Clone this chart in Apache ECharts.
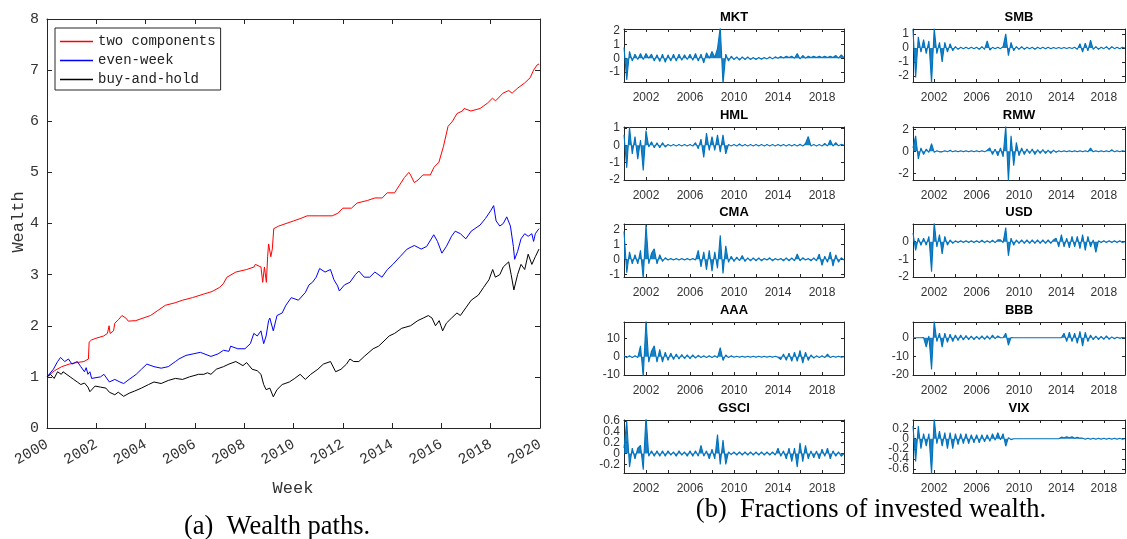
<!DOCTYPE html>
<html>
<head>
<meta charset="utf-8">
<script src="https://cdn.jsdelivr.net/npm/echarts@6/dist/echarts.min.js"></script>
<style>
  html, body { margin: 0; padding: 0; background: #fff; }
  #chart { width: 1127px; height: 539px; }
</style>
</head>
<body>
<div id="chart"></div>
<script>
// ---- (a) wealth paths: [year, wealth] ----
const twoComponents = [
  [2000,1.0],[2000.3,1.12],[2000.6,1.2],[2000.9,1.25],[2001.2,1.28],[2001.5,1.3],[2001.68,1.35],
  [2001.71,1.68],[2001.8,1.72],[2001.95,1.75],[2002.3,1.8],[2002.45,1.85],[2002.52,2.0],[2002.56,1.85],
  [2002.7,1.9],[2002.75,2.05],[2002.9,2.12],[2003.04,2.2],[2003.2,2.15],[2003.3,2.09],[2003.6,2.1],
  [2004.2,2.2],[2004.5,2.3],[2004.8,2.4],[2005.2,2.45],[2005.5,2.5],[2005.9,2.55],[2006.36,2.62],
  [2006.7,2.67],[2007.0,2.75],[2007.15,2.82],[2007.3,2.95],[2007.66,3.05],[2008.1,3.1],[2008.4,3.15],
  [2008.45,3.2],[2008.68,3.15],[2008.75,2.85],[2008.82,3.15],[2008.9,2.85],[2008.95,3.35],[2008.99,3.6],
  [2009.08,3.35],[2009.14,3.5],[2009.2,3.9],[2009.4,3.95],[2009.7,4.0],[2010.0,4.05],[2010.3,4.1],
  [2010.55,4.15],[2011.0,4.15],[2011.57,4.15],[2011.8,4.2],[2012.0,4.3],[2012.35,4.3],[2012.58,4.4],
  [2013.0,4.45],[2013.3,4.5],[2013.6,4.5],[2013.8,4.6],[2014.1,4.6],[2014.3,4.75],[2014.5,4.9],
  [2014.68,5.0],[2014.75,4.95],[2014.9,4.8],[2015.05,4.85],[2015.25,4.95],[2015.55,4.95],[2015.7,5.1],
  [2015.9,5.2],[2016.08,5.5],[2016.27,5.9],[2016.45,6.0],[2016.63,6.15],[2016.85,6.2],[2016.92,6.25],
  [2017.2,6.2],[2017.57,6.25],[2017.86,6.35],[2018.07,6.45],[2018.2,6.4],[2018.5,6.55],[2018.73,6.6],
  [2018.87,6.55],[2019.1,6.65],[2019.38,6.75],[2019.6,6.85],[2019.74,7.0],[2019.88,7.1],[2019.96,7.12]
];
const evenWeek = [
  [2000,1.0],[2000.26,1.15],[2000.43,1.3],[2000.55,1.38],[2000.72,1.3],[2000.87,1.35],[2001.01,1.25],
  [2001.23,1.3],[2001.37,1.2],[2001.52,1.1],[2001.59,1.18],[2001.66,1.05],[2001.74,1.1],[2001.81,0.97],
  [2002.17,1.0],[2002.31,1.05],[2002.53,0.9],[2002.75,0.95],[2002.96,0.9],[2003.11,0.87],[2003.33,0.95],
  [2003.62,1.05],[2003.83,1.15],[2004.05,1.25],[2004.34,1.2],[2004.63,1.17],[2004.92,1.2],[2005.21,1.3],
  [2005.35,1.35],[2005.64,1.42],[2005.93,1.45],[2006.22,1.48],[2006.65,1.4],[2006.94,1.45],[2007.16,1.52],
  [2007.38,1.5],[2007.45,1.6],[2007.74,1.55],[2008.03,1.55],[2008.25,1.65],[2008.39,1.85],[2008.53,1.8],
  [2008.68,1.9],[2008.79,1.65],[2008.89,1.8],[2008.99,2.1],[2009.04,2.15],[2009.18,1.9],[2009.33,2.2],
  [2009.54,2.25],[2009.69,2.4],[2009.91,2.55],[2010.2,2.5],[2010.48,2.65],[2010.63,2.8],[2010.77,2.85],
  [2010.92,2.95],[2011.06,3.12],[2011.28,3.05],[2011.5,3.1],[2011.64,2.9],[2011.79,2.78],[2011.86,2.68],
  [2012.07,2.8],[2012.29,2.85],[2012.51,3.0],[2012.65,3.07],[2012.87,2.95],[2013.09,2.95],[2013.3,3.05],
  [2013.59,2.95],[2013.81,3.1],[2014.03,3.2],[2014.32,3.35],[2014.61,3.5],[2014.9,3.57],[2015.18,3.5],
  [2015.4,3.55],[2015.69,3.78],[2015.84,3.65],[2016.02,3.42],[2016.2,3.55],[2016.41,3.75],[2016.56,3.85],
  [2016.77,3.8],[2016.99,3.7],[2017.21,3.85],[2017.57,3.97],[2017.79,4.1],[2018.0,4.25],[2018.12,4.35],
  [2018.22,4.05],[2018.37,3.95],[2018.51,4.0],[2018.65,4.13],[2018.8,3.95],[2018.92,3.55],[2018.97,3.3],
  [2019.09,3.45],[2019.23,3.7],[2019.38,3.8],[2019.52,3.75],[2019.67,3.8],[2019.74,3.65],[2019.81,3.8],
  [2019.96,3.9]
];
const buyAndHold = [
  [2000,1.0],[2000.14,1.05],[2000.29,0.97],[2000.43,1.1],[2000.58,1.05],[2000.65,1.1],[2000.94,1.0],
  [2001.08,0.95],[2001.23,0.9],[2001.37,0.85],[2001.52,0.88],[2001.66,0.8],[2001.74,0.71],[2001.95,0.82],
  [2002.17,0.8],[2002.39,0.78],[2002.53,0.7],[2002.75,0.65],[2002.89,0.7],[2003.11,0.62],[2003.33,0.68],
  [2003.54,0.72],[2003.83,0.78],[2004.12,0.85],[2004.34,0.9],[2004.63,0.87],[2004.92,0.93],[2005.21,0.97],
  [2005.5,0.95],[2005.78,1.0],[2006.15,1.05],[2006.36,1.05],[2006.51,1.08],[2006.65,1.05],[2006.87,1.15],
  [2007.16,1.2],[2007.38,1.25],[2007.66,1.3],[2007.95,1.22],[2008.1,1.28],[2008.32,1.15],[2008.53,1.12],
  [2008.68,1.05],[2008.79,0.85],[2008.89,0.75],[2009.04,0.78],[2009.18,0.61],[2009.33,0.75],[2009.54,0.85],
  [2009.83,0.9],[2010.05,0.97],[2010.27,1.05],[2010.48,0.95],[2010.7,1.05],[2010.99,1.15],[2011.21,1.25],
  [2011.5,1.3],[2011.57,1.3],[2011.71,1.1],[2011.93,1.15],[2012.15,1.25],[2012.29,1.35],[2012.44,1.3],
  [2012.65,1.3],[2012.87,1.4],[2013.23,1.55],[2013.45,1.6],[2013.67,1.7],[2013.88,1.8],[2014.1,1.85],
  [2014.39,1.95],[2014.75,2.0],[2015.04,2.1],[2015.26,2.15],[2015.47,2.2],[2015.62,2.15],[2015.76,2.0],
  [2015.91,2.1],[2015.98,2.0],[2016.05,1.9],[2016.2,2.05],[2016.41,2.15],[2016.63,2.25],[2016.77,2.2],
  [2016.99,2.35],[2017.21,2.5],[2017.5,2.6],[2017.71,2.75],[2017.93,2.9],[2018.08,3.1],[2018.19,2.95],
  [2018.37,3.0],[2018.51,3.15],[2018.73,3.25],[2018.83,3.0],[2018.94,2.7],[2019.09,3.0],[2019.23,3.2],
  [2019.38,3.1],[2019.52,3.4],[2019.67,3.2],[2019.81,3.35],[2019.96,3.5]
];

// ---- (b) fractions of invested wealth, quarterly envelope samples 2000.00 .. 2020.00 ----
const mkt = [
  0.8, -1.6, 0.5, -0.2,   0.3, -0.1, 0.35, -0.1,   0.35, 0.0, 0.3, -0.2,   0.25, -0.25, 0.3, -0.3,
  0.25, -0.2, 0.3, -0.2,  0.3, -0.15, 0.25, -0.1,  0.3, -0.15, 0.35, -0.2, 0.3, -0.35, 0.4, 0.0,
  0.5, 0.05, 0.7, 2.3,    -1.9, 0.3, -0.2, 0.15,   -0.1, 0.1, -0.15, 0.1,  -0.1, 0.1, -0.1, 0.05,
  -0.1, 0.05, -0.08, 0.05, -0.05, 0.1, -0.05, 0.1, 0.0, 0.12, 0.02, 0.15,  0.05, 0.15, 0.0, 0.35,
  -0.05, 0.2, 0.0, 0.15,  0.05, 0.15, 0.05, 0.15,  0.05, 0.15, 0.05, 0.15, 0.05, 0.2, 0.0, 0.25,
  0.05
];
const smb = [
  1.3, -2.1, 0.8, -0.3,   0.6, -0.4, 0.5, -2.5,    1.4, -0.4, 0.4, -1.0,    0.4, -0.3, 0.3, -0.2,
  0.1, -0.1, 0.05, -0.05, 0.05, -0.05, 0.05, -0.05, 0.05, -0.1, 0.1, -0.1, 0.5, -0.15, 0.05, -0.05,
  0.05, -0.05, 0.1, 1.0,  -0.55, 0.4, -0.2, 0.1,   -0.1, 0.1, -0.1, 0.05,   -0.05, 0.05, -0.1, 0.05,
  -0.05, 0.05, -0.05, 0.05, -0.05, 0.03, -0.03, 0.03, -0.03, 0.03, -0.03, 0.03, -0.03, 0.05, -0.1, 0.3,
  -0.3, 0.35, -0.2, 0.55, -0.1, 0.1, -0.1, 0.05,   -0.05, 0.1, -0.1, 0.1,   -0.05, 0.05, -0.05, 0.05,
  0.0
];
const hml = [
  0.6, -1.3, 1.05, -0.5,  0.5, -0.8, 0.3, -1.45,   0.85, -0.1, 0.2, -0.15,  0.15, -0.15, 0.15, -0.1,
  0.05, -0.05, 0.05, -0.05, 0.05, -0.05, 0.05, -0.05, 0.05, -0.05, 0.15, -0.2, 0.35, -0.7, 0.7, -0.3,
  0.5, -0.3, 0.6, -0.4,   0.6, -0.5, 0.05, -0.05,  0.05, -0.05, 0.08, -0.05, 0.05, -0.05, 0.05, -0.05,
  0.05, -0.04, 0.05, -0.05, 0.05, -0.05, 0.05, -0.05, 0.05, -0.04, 0.05, -0.05, 0.05, -0.04, 0.05, -0.05,
  0.06, -0.05, 0.1, 0.5,  -0.05, 0.05, -0.05, 0.05, -0.05, 0.1, -0.05, 0.3, -0.05, 0.15, -0.03, 0.05,
  0.0
];
const rmw = [
  0.3, 1.4, -0.7, 0.3,    -0.3, 0.2, -0.1, 0.7,    -0.1, 0.05, -0.05, -0.05, 0.05, -0.05, 0.1, -0.05,
  0.05, -0.05, 0.05, -0.05, 0.05, -0.05, 0.05, -0.05, 0.05, -0.05, 0.05, -0.05, 0.1, 0.3, -0.3, 0.2,
  -0.4, 0.3, -0.5, 2.3,   -2.7, 1.4, -1.3, 0.8,    -0.4, 0.3, -0.3, 0.2,    -0.2, 0.2, -0.3, 0.15,
  -0.2, 0.15, -0.2, 0.1,  -0.2, 0.1, -0.1, 0.05,   -0.05, 0.05, -0.05, 0.05, -0.05, 0.05, -0.05, 0.05,
  -0.05, 0.05, -0.05, 0.3, -0.05, 0.05, -0.05, 0.05, -0.05, 0.05, -0.05, 0.15, -0.05, 0.05, -0.05, 0.05,
  0.0
];
const cma = [
  1.85, -0.9, 0.5, -0.3,  0.3, -0.3, 0.6, -1.3,    2.3, -0.3, 0.4, 0.7,     -0.3, 0.3, -0.15, 0.1,
  -0.05, 0.05, -0.05, 0.05, -0.05, 0.05, -0.05, 0.05, -0.05, 0.05, -0.05, 0.6, -0.5, 0.5, -0.7, 0.6,
  -0.8, 0.5, -0.6, 1.6,   -0.95, 0.9, -0.2, 0.2,   -0.15, 0.15, -0.1, 0.25, -0.15, 0.1, -0.1, 0.1,
  -0.1, 0.1, -0.1, 0.05,  -0.05, 0.1, -0.1, 0.05,  -0.05, 0.05, -0.1, 0.1,  -0.1, 0.1, -0.1, 0.35,
  -0.1, 0.1, -0.05, 0.05, -0.1, 0.1, -0.1, 0.35,   -0.4, 0.2, -0.2, 0.5,    -0.45, 0.3, -0.2, 0.1,
  -0.05
];
const usd = [
  0.5, -0.5, 0.2, -0.2,   0.2, -0.2, 0.3, -1.7,    1.1, -0.3, 0.4, -0.7,    0.3, -0.2, 0.1, -0.1,
  0.05, -0.05, 0.05, -0.05, 0.05, -0.05, 0.05, -0.05, 0.05, -0.05, 0.08, -0.05, 0.05, -0.05, 0.08, -0.05,
  0.1, 0.1, -0.05, 0.8,   -0.8, 0.2, -0.2, 0.1,    -0.1, 0.1, -0.1, 0.1,    -0.1, 0.1, -0.1, 0.1,
  -0.1, 0.1, -0.1, 0.1,   -0.1, 0.1, 0.2, -0.3,    0.4, -0.3, 0.2, -0.35,   0.3, -0.3, 0.3, -0.4,
  0.4, -0.5, 0.3, -0.3,   0.1, -0.6, 0.05, -0.05,  0.05, -0.05, 0.05, -0.05, 0.05, -0.05, 0.05, -0.05,
  0.0
];
const aaa = [
  0.5, -0.5, 0.5, -0.5,   0.5, -0.5, 6, -11,       20, -3, 3, 6,            -3, 4, -3, 2.5,
  -2, 2, -1.5, 1.5,       -1.2, 1.2, -1, 1,        -1, 1, -0.8, 0.8,        -0.5, 0.5, -0.5, 0.5,
  -0.5, 0.5, -0.5, 5,     -2, 1, -0.5, 0.5,        -0.3, 0.3, -0.3, 0.3,    -0.3, 0.3, -0.3, 0.3,
  -0.3, 0.3, -0.3, 0.3,   -0.3, 0.3, -0.3, 0.3,    -0.3, -1.5, 1.5, -2,     2, -2.5, 2.5, -2.5,
  3.5, -3.5, 2.5, -2,     1, -0.8, 0.5, -0.5,      0.5, -0.5, 1.5, -0.5,    0.3, -0.3, 0.3, -0.3,
  0
];
const bbb = [
  0, 0, 0, 0,             0.1, -5, 1, -17,         9, -2, 2.5, -5,          2.5, -2.5, 2, -2,
  1.5, -1.5, 1.5, -1.2,   1.2, -1, 1, -1,          0.8, -0.8, 1, -0.8,      1, -0.8, 1.5, -0.5,
  1, 0, 0, 2.5,           -4, 0.2, 0, 0,           0, 0, 0, 0,              0, 0, 0, 0,
  0, 0, 0, 0,             0, 0, 0, 0,              0, 2.5, -2, 3,           -2, 2.5, -3, 3.5,
  -4.5, 3, -2, 1.5,       -1, 1, -1, 0.8,          -0.8, 1, -0.8, 0.5,      -0.5, 0.3, -0.3, 0.2,
  0
];
const gsci = [
  0.1, 0.6, -0.25, 0.1,   -0.1, 0.1, 0.15, -0.3,   0.7, -0.05, 0.05, -0.05, 0.05, -0.05, 0.05, -0.05,
  0.05, -0.03, 0.03, -0.05, 0.05, -0.03, 0.03, -0.05, 0.05, -0.05, 0.05, -0.05, 0.15, -0.05, 0.05, -0.1,
  0.08, -0.1, 0.35, -0.2, 0.25, -0.2, 0.03, -0.02, 0.03, -0.03, 0.03, -0.03, 0.03, -0.03, 0.03, -0.03,
  0.03, -0.03, 0.03, -0.03, 0.03, -0.03, 0.03, -0.03, 0.1, -0.05, 0.05, -0.1, 0.1, -0.15, 0.1, -0.25,
  0.2, -0.15, 0.15, -0.1, 0.05, -0.08, 0.05, -0.1, 0.08, -0.05, 0.1, -0.1,  0.05, -0.05, 0.03, -0.05,
  0.0
];
const vix = [
  0.25, -0.45, 0.25, -0.2, 0.1, -0.15, 0.1, -0.7,  0.4, -0.1, 0.15, -0.15,  0.12, -0.2, 0.12, -0.2,
  0.1, -0.12, 0.1, -0.1,  0.1, -0.1, 0.08, -0.08,  0.08, -0.08, 0.08, -0.06, 0.08, -0.05, 0.1, -0.03,
  0.12, -0.02, 0.1, -0.15, 0.02, -0.02, 0, 0,      0, 0, 0, 0,              0, 0, 0, 0,
  0, 0, 0, 0,             0, 0, 0, 0,              0.03, 0.02, 0.04, 0.02,  0.04, 0.01, 0.03, 0.01,
  0.01, -0.01, 0.01, -0.01, 0.01, -0.01, 0.01, -0.01, 0.01, -0.01, 0.01, -0.01, 0.01, -0.01, 0.01, -0.01,
  0
];

// axis ranges and tick labels of the small panels
const panelNames = ['MKT', 'SMB', 'HML', 'RMW', 'CMA', 'USD', 'AAA', 'BBB', 'GSCI', 'VIX'];
const panelValues = [mkt, smb, hml, rmw, cma, usd, aaa, bbb, gsci, vix];
const panelRanges = [
  [-1.75, 2.15], [-2.42, 1.35], [-2, 1.05], [-2.6, 2.2], [-1.18, 2.35],
  [-2, 1.0], [-10, 19], [-20, 8.5], [-0.36, 0.62], [-0.68, 0.37]
];
const panelTicks = [
  [-1, 0, 1, 2], [-2, -1, 0, 1], [-2, -1, 0, 1], [-2, 0, 2], [-1, 0, 1, 2],
  [-2, -1, 0], [-10, 0, 10], [-20, -10, 0], [-0.2, 0, 0.2, 0.4, 0.6], [-0.6, -0.4, -0.2, 0, 0.2]
];
const yearLabels = [2002, 2006, 2010, 2014, 2018];
const yearTicks = [2002, 2004, 2006, 2008, 2010, 2012, 2014, 2016, 2018];

const sampleYears = [];
for (let i = 0; i <= 80; i++) sampleYears.push(2000 + i * 0.25);

// layout of the small panels (pixels)
const colLeft = [624, 913];
const colWidth = [220, 212];
const rowTop = [29, 127, 224, 322, 420];
const panelHeight = 53;

const axisColor = '#262626';
const labelColor = '#333';
const mono = '"Liberation Mono", "DejaVu Sans Mono", monospace';
const sans = '"Liberation Sans", Arial, sans-serif';
const serif = '"Liberation Serif", "DejaVu Serif", serif';
const plainNum = v => String(v);

const grid = [{ left: 47, top: 19, width: 493, height: 409 }];
const xAxis = [
  {
    type: 'value', gridIndex: 0, min: 2000, max: 2020, interval: 2,
    axisLine: { show: true, onZero: false, lineStyle: { color: axisColor } },
    axisTick: { inside: true, length: 5, lineStyle: { color: axisColor } },
    axisLabel: { rotate: 30, margin: 15, fontFamily: mono, fontSize: 15, color: labelColor, formatter: plainNum },
    splitLine: { show: false }
  },
  {
    type: 'value', gridIndex: 0, position: 'top', min: 2000, max: 2020, interval: 2,
    axisLine: { show: true, onZero: false, lineStyle: { color: axisColor } },
    axisTick: { inside: true, length: 5, lineStyle: { color: axisColor } },
    axisLabel: { show: false }, splitLine: { show: false }
  }
];
const yAxis = [
  {
    type: 'value', gridIndex: 0, min: 0, max: 8, interval: 1,
    axisLine: { show: true, onZero: false, lineStyle: { color: axisColor } },
    axisTick: { show: true, inside: true, length: 5, lineStyle: { color: axisColor } },
    axisLabel: { margin: 8, fontFamily: mono, fontSize: 15, color: labelColor },
    splitLine: { show: false }
  },
  {
    type: 'value', gridIndex: 0, position: 'right', min: 0, max: 8, interval: 1,
    axisLine: { show: true, onZero: false, lineStyle: { color: axisColor } },
    axisTick: { show: true, inside: true, length: 5, lineStyle: { color: axisColor } },
    axisLabel: { show: false }, splitLine: { show: false }
  }
];
const series = [
  { name: 'two components', data: twoComponents, color: '#ff0000' },
  { name: 'even-week', data: evenWeek, color: '#0000ff' },
  { name: 'buy-and-hold', data: buyAndHold, color: '#000000' }
].map(s => ({
  name: s.name, type: 'line', xAxisIndex: 0, yAxisIndex: 0, data: s.data,
  showSymbol: false, symbol: 'none', color: s.color,
  lineStyle: { width: 1, color: s.color }, animation: false
}));

const graphic = [
  { type: 'text', x: 293, y: 488, style: { text: 'Week', font: '17px ' + mono, fill: labelColor, textAlign: 'center', textVerticalAlign: 'middle' } },
  { type: 'text', x: 18, y: 222, rotation: Math.PI / 2, style: { text: 'Wealth', font: '17px ' + mono, fill: labelColor, textAlign: 'center', textVerticalAlign: 'middle' } },
  { type: 'text', x: 277, y: 527, style: { text: '(a)  Wealth paths.', font: '26.5px ' + serif, fill: '#000', textAlign: 'center', textVerticalAlign: 'middle' } },
  { type: 'text', x: 871, y: 510, style: { text: '(b)  Fractions of invested wealth.', font: '26.5px ' + serif, fill: '#000', textAlign: 'center', textVerticalAlign: 'middle' } }
];

panelNames.forEach((name, p) => {
  const col = p % 2;
  const row = Math.floor(p / 2);
  const gi = p + 1;
  const left = colLeft[col];
  const top = rowTop[row];
  grid.push({ left: left, top: top, width: colWidth[col], height: panelHeight });
  const [ymin, ymax] = panelRanges[p];
  const ticks = panelTicks[p];
  xAxis.push({
    type: 'value', gridIndex: gi, min: 2000, max: 2020,
    axisLine: { show: true, onZero: false, lineStyle: { color: axisColor } },
    axisTick: { show: true, inside: true, length: 3, customValues: yearTicks, lineStyle: { color: axisColor } },
    axisLabel: { margin: 10, fontFamily: sans, fontSize: 12, color: labelColor, customValues: yearLabels, formatter: plainNum },
    splitLine: { show: false }
  });
  xAxis.push({
    type: 'value', gridIndex: gi, position: 'top', min: 2000, max: 2020,
    axisLine: { show: true, onZero: false, lineStyle: { color: axisColor } },
    axisTick: { show: true, inside: true, length: 3, customValues: yearTicks, lineStyle: { color: axisColor } },
    axisLabel: { show: false }, splitLine: { show: false }
  });
  // left axis carries line, ticks and every other label; a twin carries the rest so none get hidden
  yAxis.push({
    type: 'value', gridIndex: gi, min: ymin, max: ymax,
    axisLine: { show: true, onZero: false, lineStyle: { color: axisColor } },
    axisTick: { show: true, inside: true, length: 3, customValues: ticks, lineStyle: { color: axisColor } },
    axisLabel: { margin: 4, fontFamily: sans, fontSize: 12, color: labelColor, customValues: ticks.filter((t, k) => k % 2 === 0) },
    splitLine: { show: false }
  });
  yAxis.push({
    type: 'value', gridIndex: gi, position: 'right', min: ymin, max: ymax,
    axisLine: { show: true, onZero: false, lineStyle: { color: axisColor } },
    axisTick: { show: true, inside: true, length: 3, customValues: ticks, lineStyle: { color: axisColor } },
    axisLabel: { show: false }, splitLine: { show: false }
  });
  yAxis.push({
    type: 'value', gridIndex: gi, position: 'left', min: ymin, max: ymax,
    axisLine: { show: false, onZero: false }, axisTick: { show: false },
    axisLabel: { margin: 4, fontFamily: sans, fontSize: 12, color: labelColor, customValues: ticks.filter((t, k) => k % 2 === 1) },
    splitLine: { show: false }
  });
  series.push({
    name: name, type: 'line', xAxisIndex: 2 * gi, yAxisIndex: 3 * p + 2,
    data: panelValues[p].map((v, i) => [sampleYears[i], v]),
    showSymbol: false, symbol: 'none', clip: true, animation: false,
    lineStyle: { width: 1.1, color: '#0072BD' },
    areaStyle: { color: '#0072BD', opacity: 0.9 }
  });
  graphic.push({
    type: 'text', x: left + colWidth[col] / 2, y: top - 12,
    style: { text: name, font: 'bold 13px ' + sans, fill: '#000', textAlign: 'center', textVerticalAlign: 'middle' }
  });
});

const chart = echarts.init(document.getElementById('chart'));
chart.setOption({
  animation: false,
  backgroundColor: '#fff',
  grid: grid,
  xAxis: xAxis,
  yAxis: yAxis,
  legend: {
    data: ['two components', 'even-week', 'buy-and-hold'],
    orient: 'vertical', left: 55, top: 28,
    icon: 'rect', itemWidth: 33, itemHeight: 1.5, itemGap: 4,
    padding: [6, 5, 3, 5],
    borderColor: axisColor, borderWidth: 1, backgroundColor: '#fff',
    textStyle: { fontFamily: mono, fontSize: 14, color: '#222', lineHeight: 15 }
  },
  graphic: graphic,
  series: series
});
</script>
</body>
</html>
